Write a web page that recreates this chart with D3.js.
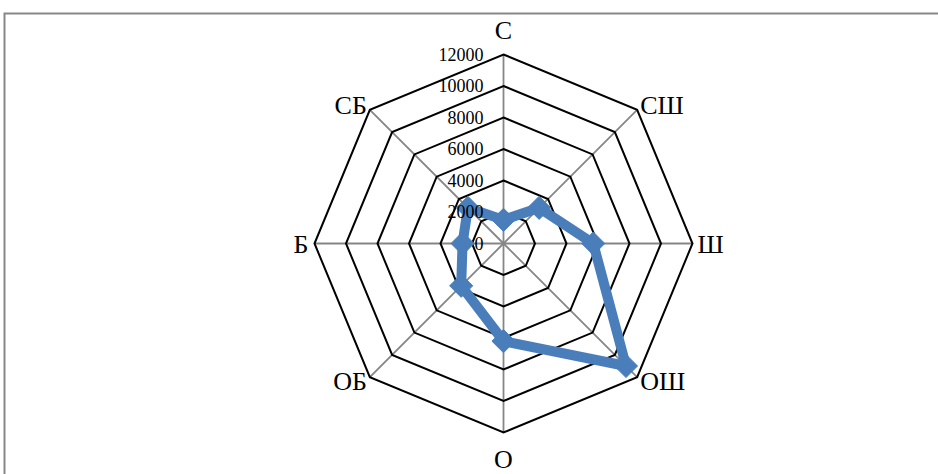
<!DOCTYPE html>
<html>
<head>
<meta charset="utf-8">
<script src="https://cdn.jsdelivr.net/npm/d3@7"></script>
<style>
html,body{margin:0;padding:0;background:#fff;}
svg{display:block;}
</style>
</head>
<body>
<svg id="chart" width="938" height="474"></svg>
<script>
const categories = ["С","СШ","Ш","ОШ","О","ОБ","Б","СБ"];
const values = [1500, 3200, 5700, 11000, 6200, 3800, 2600, 3200];
const tickValues = [0, 2000, 4000, 6000, 8000, 10000, 12000];

const svg = d3.select("#chart");
const W = 938, H = 474;
const cx = 503.5, cy = 243.5, R = 189;

svg.append("rect").attr("x", 4.5).attr("y", 13.5).attr("width", W + 20).attr("height", H + 20)
  .attr("fill", "#fff").attr("stroke", "#888").attr("stroke-width", 2);

const r = d3.scaleLinear().domain([0, 12000]).range([0, R]);
const angle = d3.scaleLinear().domain([0, categories.length]).range([0, 2 * Math.PI]);
const px = (i, v) => cx + r(v) * Math.sin(angle(i));
const py = (i, v) => cy - r(v) * Math.cos(angle(i));

const g = svg.append("g");

// spokes
g.selectAll("line.spoke").data(categories).enter().append("line")
  .attr("x1", cx).attr("y1", cy)
  .attr("x2", (d, i) => px(i, 12000)).attr("y2", (d, i) => py(i, 12000))
  .attr("stroke", "#868686").attr("stroke-width", 1.8);

// rings
g.selectAll("polygon.ring").data(tickValues.filter(t => t > 0)).enter().append("polygon")
  .attr("points", t => categories.map((c, i) => px(i, t) + "," + py(i, t)).join(" "))
  .attr("fill", "none").attr("stroke", "#000").attr("stroke-width", 2);

// category labels
const anchors = ["middle","start","start","start","middle","end","end","end"];
const offs = [[0,-16],[3,4],[5,9],[3,13],[0,35],[-3,13],[-6,9],[-3,4]];
g.selectAll("text.cat").data(categories).enter().append("text")
  .attr("x", (d, i) => px(i, 12000) + offs[i][0])
  .attr("y", (d, i) => py(i, 12000) + offs[i][1])
  .attr("text-anchor", (d, i) => anchors[i])
  .attr("font-family", "'Liberation Serif', 'Times New Roman', serif")
  .attr("font-size", 26).attr("fill", "#000")
  .text(d => d);

// series line
const line = d3.lineRadial().angle((d, i) => angle(i)).radius(d => r(d)).curve(d3.curveLinearClosed);
g.append("path").datum(values)
  .attr("transform", `translate(${cx},${cy})`)
  .attr("d", line)
  .attr("fill", "none").attr("stroke", "#4A7EBB").attr("stroke-width", 10)
  .attr("stroke-linejoin", "round");

// markers
g.selectAll("path.marker").data(values).enter().append("path")
  .attr("transform", (d, i) => `translate(${px(i, d)},${py(i, d)})`)
  .attr("d", d3.symbol().type(d3.symbolDiamond2).size(340))
  .attr("fill", "#4A7EBB").attr("stroke", "#4A7EBB").attr("stroke-width", 1);

// tick labels (drawn on top of the series, as in the reference)
g.selectAll("text.tick").data(tickValues).enter().append("text")
  .attr("x", cx - 20).attr("y", t => cy - r(t))
  .attr("text-anchor", "end").attr("dominant-baseline", "central")
  .attr("font-family", "'Liberation Serif', 'Times New Roman', serif")
  .attr("font-size", 18).attr("fill", "#000")
  .text(t => t);
</script>
</body>
</html>
